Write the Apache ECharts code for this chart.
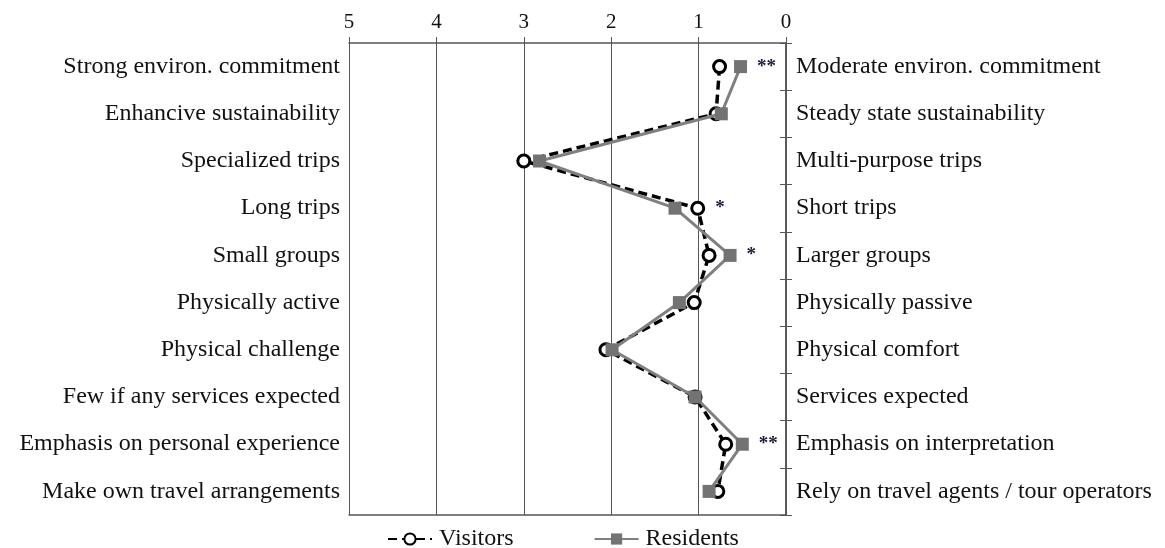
<!DOCTYPE html>
<html>
<head>
<meta charset="utf-8">
<script src="https://cdn.jsdelivr.net/npm/echarts@6/dist/echarts.min.js"></script>
<style>
  html, body { margin: 0; padding: 0; background: #fff; }
  #chart { width: 1165px; height: 548px; }
</style>
</head>
<body>
<div id="chart"></div>
<script>
// left / right poles of each item
const leftLabels = [
  'Strong environ. commitment',
  'Enhancive sustainability',
  'Specialized trips',
  'Long trips',
  'Small groups',
  'Physically active',
  'Physical challenge',
  'Few if any services expected',
  'Emphasis on personal experience',
  'Make own travel arrangements'
]
const rightLabels = [
  'Moderate environ. commitment',
  'Steady state sustainability',
  'Multi-purpose trips',
  'Short trips',
  'Larger groups',
  'Physically passive',
  'Physical comfort',
  'Services expected',
  'Emphasis on interpretation',
  'Rely on travel agents / tour operators'
]
// mean scores
const visitors = [0.76, 0.80, 3.0, 1.01, 0.88, 1.05, 2.06, 1.04, 0.69, 0.78]
const residents = [0.52, 0.74, 2.82, 1.27, 0.64, 1.22, 1.99, 1.04, 0.50, 0.88]
// significance marks
const stars = ['**', '', '', '*', '*', '', '', '', '**', '']
const xTicks = [0, 1, 2, 3, 4, 5]

const chart = echarts.init(document.getElementById('chart'))
const serif = '"Liberation Serif", "Times New Roman", serif'
const axisColor = '#555'

// star goes next to whichever point sits furthest right (smallest value)
function starLabel(own, other) {
  return {
    show: true,
    position: 'right',
    distance: 10,
    color: '#1c1c3a',
    fontSize: 19,
    fontWeight: 'bold',
    fontFamily: serif,
    formatter: p => {
      const i = p.dataIndex
      if (!stars[i]) return ''
      if (own[i] < other[i] || (own === residents && own[i] === other[i])) return stars[i]
      return ''
    }
  }
}

const option = {
  animation: false,
  backgroundColor: '#fff',
  textStyle: { fontFamily: serif },
  grid: { left: 349, right: 379, top: 43, bottom: 33 },
  legend: {
    top: 522,
    left: 382,
    itemGap: 80,
    itemWidth: 44,
    itemHeight: 14,
    textStyle: { fontFamily: serif, fontSize: 24, color: '#111', padding: [0, 0, 0, 2] },
    data: ['Visitors', 'Residents']
  },
  xAxis: [
    {
      type: 'value',
      position: 'top',
      inverse: true,
      min: xTicks[0],
      max: xTicks[xTicks.length - 1],
      interval: 1,
      axisLine: { show: true, lineStyle: { color: axisColor, width: 1.5 } },
      axisTick: { show: true, inside: false, length: 6, lineStyle: { color: axisColor } },
      axisLabel: { fontFamily: serif, fontSize: 21, color: '#111', margin: 10 },
      splitLine: { show: true, lineStyle: { color: axisColor, width: 1 } }
    },
    {
      type: 'value',
      position: 'bottom',
      inverse: true,
      min: xTicks[0],
      max: xTicks[xTicks.length - 1],
      interval: 1,
      axisLine: { show: true, lineStyle: { color: axisColor, width: 1.5 } },
      axisTick: { show: false },
      axisLabel: { show: false },
      splitLine: { show: false }
    }
  ],
  yAxis: [
    {
      type: 'category',
      position: 'left',
      inverse: true,
      data: leftLabels,
      axisLine: { show: true, lineStyle: { color: axisColor, width: 1.5 } },
      axisTick: { show: true, length: 6, lineStyle: { color: axisColor } },
      axisLabel: { fontFamily: serif, fontSize: 24, color: '#111', margin: 9 }
    },
    {
      type: 'category',
      position: 'right',
      inverse: true,
      data: rightLabels,
      axisLine: { show: true, lineStyle: { color: axisColor, width: 1.5 } },
      axisTick: { show: true, length: 6, lineStyle: { color: axisColor } },
      axisLabel: { fontFamily: serif, fontSize: 24, color: '#111', margin: 10 }
    }
  ],
  series: [
    {
      name: 'Visitors',
      type: 'line',
      xAxisIndex: 0,
      yAxisIndex: 0,
      data: visitors,
      symbol: 'circle',
      symbolSize: 12,
      lineStyle: { color: '#000', width: 3.5, type: [9, 5] },
      itemStyle: { color: '#fff', borderColor: '#000', borderWidth: 3 },
      label: starLabel(visitors, residents),
      z: 2
    },
    {
      name: 'Residents',
      type: 'line',
      xAxisIndex: 0,
      yAxisIndex: 0,
      data: residents,
      symbol: 'rect',
      symbolSize: 13,
      lineStyle: { color: '#808080', width: 3 },
      itemStyle: { color: '#737373', borderColor: '#737373', borderWidth: 0 },
      label: starLabel(residents, visitors),
      z: 3
    }
  ]
}

chart.setOption(option)
</script>
</body>
</html>
